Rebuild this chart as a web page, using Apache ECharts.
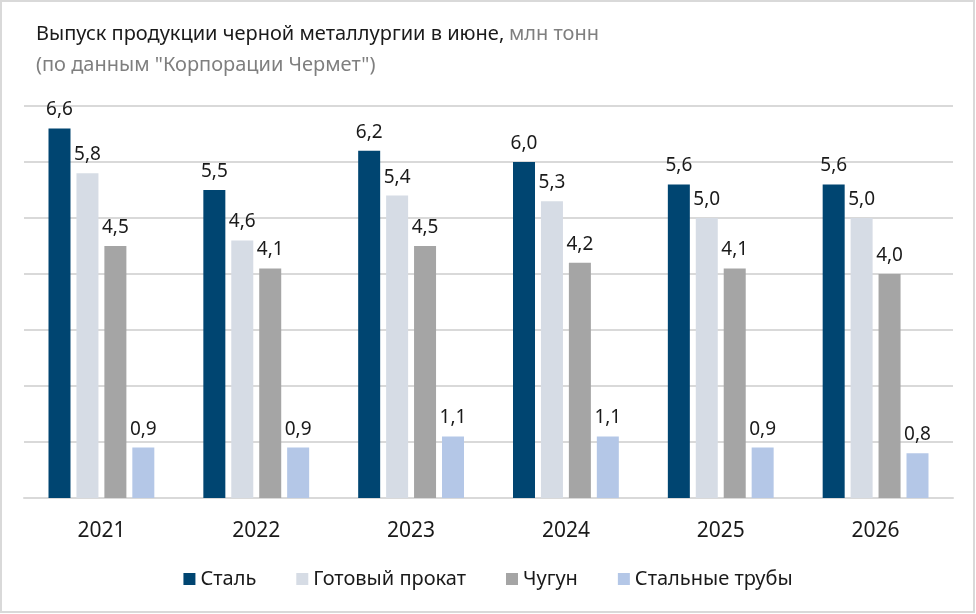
<!DOCTYPE html>
<html>
<head>
<meta charset="utf-8">
<script src="https://cdn.jsdelivr.net/npm/echarts@6/dist/echarts.min.js"></script>
<style>
  html, body { margin: 0; padding: 0; background: #fff; }
  #chart { width: 976px; height: 614px; }
</style>
</head>
<body>
<div id="chart"></div>
<script>
// данные
var years = ['2021', '2022', '2023', '2024', '2025', '2026'];
var steel = [6.6, 5.5, 6.2, 6.0, 5.6, 5.6];
var rolled = [5.8, 4.6, 5.4, 5.3, 5.0, 5.0];
var pigIron = [4.5, 4.1, 4.5, 4.2, 4.1, 4.0];
var pipes = [0.9, 0.9, 1.1, 1.1, 0.9, 0.8];
var seriesNames = ['Сталь', 'Готовый прокат', 'Чугун', 'Стальные трубы'];
var colors = ['#004571', '#d6dce5', '#a5a5a5', '#b4c7e7'];

var fontName = '"Noto Sans", Lato, sans-serif';

function makeSeries(name, data, color) {
    return {
        name: name,
        type: 'bar',
        data: data,
        barWidth: 22,
        barGap: '27%',
        itemStyle: { color: color },
        label: {
            show: true,
            position: 'top',
            distance: 9,
            color: '#1a1a1a',
            fontSize: 19,
            fontFamily: fontName,
            formatter: function (p) {
                return p.value.toFixed(1).replace('.', ',');
            }
        }
    };
}

var myChart = echarts.init(document.getElementById('chart'));
var option = {
    backgroundColor: '#fff',
    animation: false,
    textStyle: { fontFamily: fontName },
    title: {
        left: 31,
        top: 14,
        text: '{a|Выпуск продукции черной металлургии в июне,} {b|млн тонн}\n{b|(по данным "Корпорации Чермет")}',
        textStyle: {
            rich: {
                a: { fontSize: 20, color: '#1a1a1a', fontFamily: fontName, fontWeight: 'normal', lineHeight: 31 },
                b: { fontSize: 20, color: '#7f7f7f', fontFamily: fontName, fontWeight: 'normal', lineHeight: 30 }
            }
        }
    },
    graphic: [{
        type: 'rect',
        shape: { x: 1, y: 1, width: 973, height: 611 },
        style: { fill: 'none', stroke: '#d9d9d9', lineWidth: 2 },
        silent: true
    }],
    legend: {
        data: seriesNames,
        bottom: 20,
        left: 'center',
        icon: 'rect',
        itemWidth: 12,
        itemHeight: 12,
        itemGap: 40,
        textStyle: { fontSize: 20, color: '#1a1a1a', fontFamily: fontName }
    },
    grid: {
        left: 24,
        right: 23,
        top: 106,
        bottom: 116,
        containLabel: false
    },
    xAxis: {
        type: 'category',
        data: years,
        axisLine: { lineStyle: { color: '#d9d9d9', width: 2 } },
        axisTick: { show: false },
        axisLabel: { color: '#1a1a1a', fontSize: 21, margin: 23, fontFamily: fontName }
    },
    yAxis: {
        type: 'value',
        min: 0,
        max: 7,
        interval: 1,
        axisLabel: { show: false },
        axisLine: { show: false },
        axisTick: { show: false },
        splitLine: { lineStyle: { color: '#d9d9d9', width: 2 } }
    },
    series: [
        makeSeries(seriesNames[0], steel, colors[0]),
        makeSeries(seriesNames[1], rolled, colors[1]),
        makeSeries(seriesNames[2], pigIron, colors[2]),
        makeSeries(seriesNames[3], pipes, colors[3])
    ]
};
myChart.setOption(option);
</script>
</body>
</html>
